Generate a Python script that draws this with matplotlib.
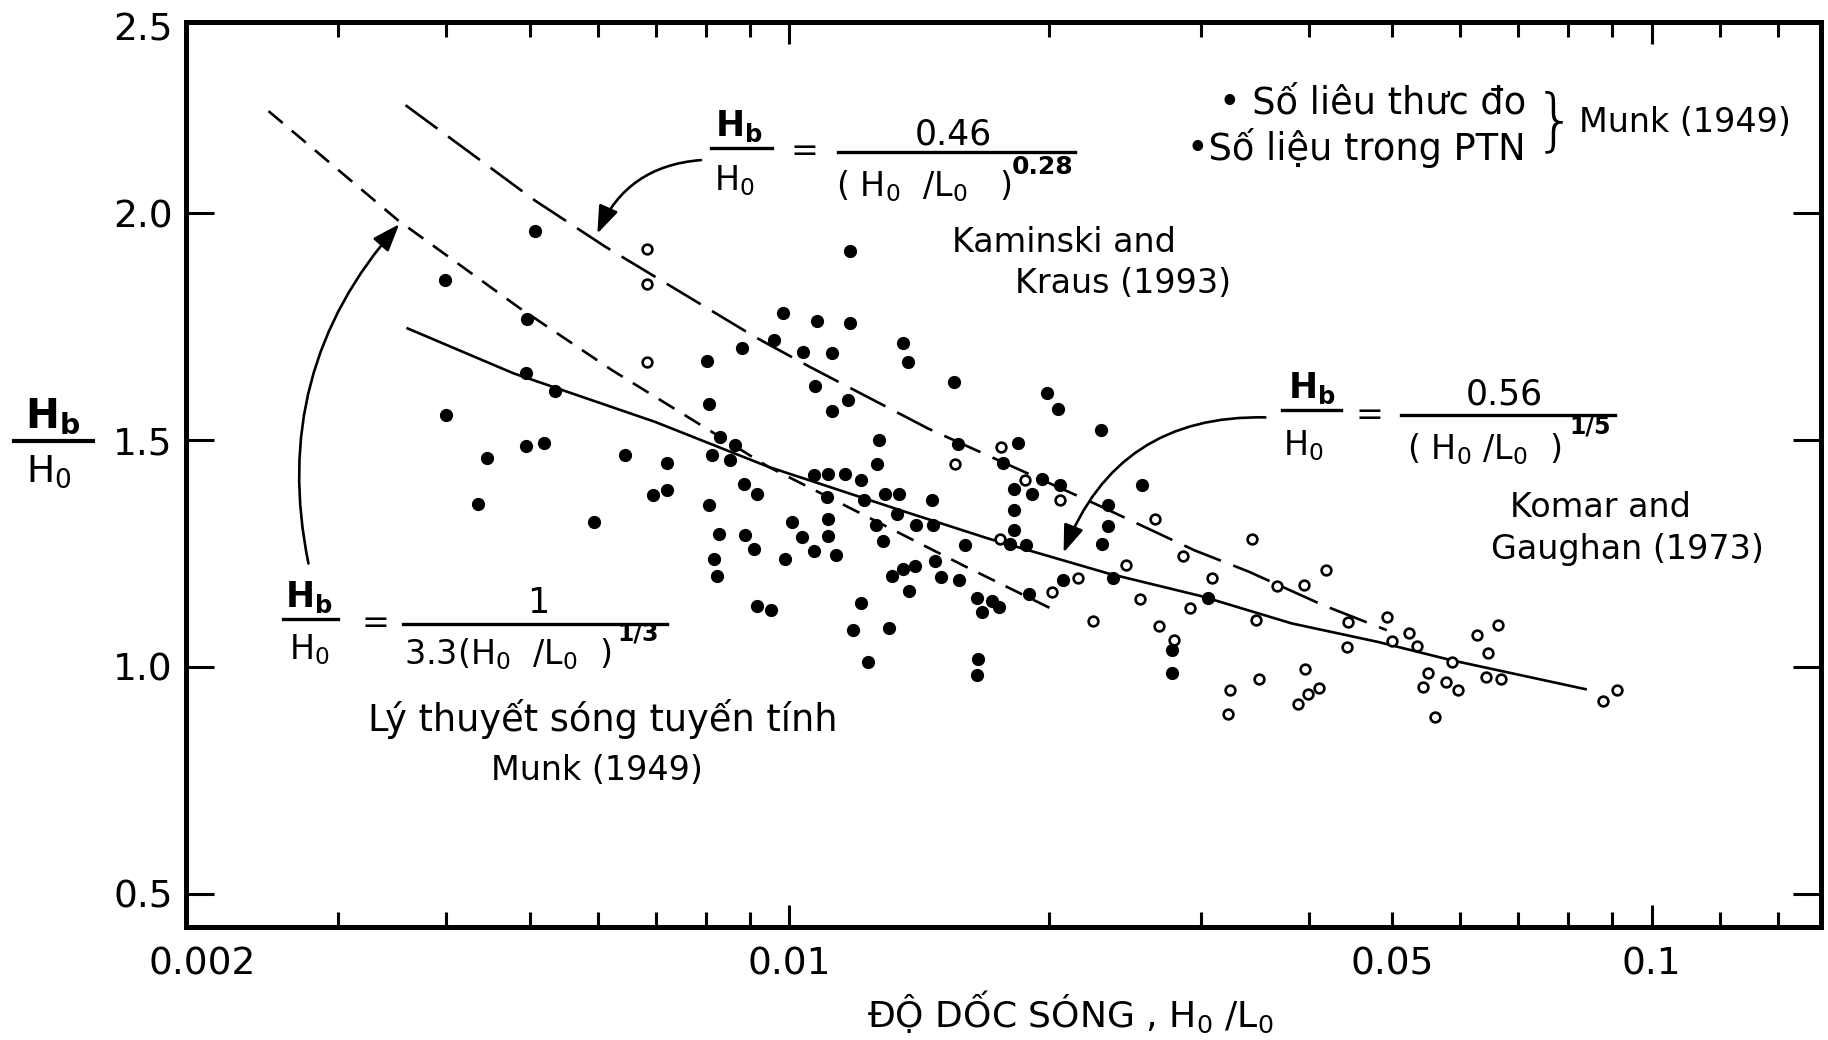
import matplotlib
matplotlib.use("Agg")
import matplotlib.pyplot as plt
from matplotlib.lines import Line2D
from matplotlib.transforms import ScaledTranslation

plt.rcParams['font.family'] = ['DejaVu Sans']
plt.rcParams['mathtext.fontset'] = 'dejavusans'

# ---------------- data ----------------
field_x = [0.00507, 0.00399, 0.00496, 0.00495, 0.00535, 0.00400, 0.00495, 0.00520, 0.00446,
           0.00436, 0.00594, 0.00645, 0.00695, 0.00721, 0.00721, 0.00802, 0.00881, 0.00961,
           0.00806, 0.00831, 0.00865, 0.00813, 0.00854, 0.00806, 0.00887, 0.00917, 0.00828,
           0.00889, 0.00909, 0.00817, 0.00824, 0.00917, 0.00952, 0.01176, 0.00984, 0.01078,
           0.01176, 0.01036, 0.01120, 0.01353, 0.01374, 0.01554, 0.01989, 0.0205, 0.02296,
           0.01071, 0.01169, 0.01122, 0.01271, 0.01263, 0.01571, 0.01844, 0.01767, 0.01067,
           0.01110, 0.01159, 0.01211, 0.01105, 0.01222, 0.01291, 0.01342, 0.01465, 0.01332,
           0.01007, 0.01110, 0.01260, 0.01402, 0.01469, 0.01034, 0.01110, 0.01286, 0.01067,
           0.01132, 0.00989, 0.01599, 0.0182, 0.01962, 0.0191, 0.0206, 0.0182, 0.0182,
           0.01803, 0.0188, 0.02562, 0.0234, 0.0234, 0.02303, 0.0306, 0.02079, 0.02376,
           0.02776, 0.02776, 0.01894, 0.01649, 0.01717, 0.0175, 0.01675, 0.01476, 0.01498,
           0.01575, 0.01317, 0.01356, 0.01399, 0.01378, 0.01210, 0.01187, 0.01306, 0.01233,
           0.01654, 0.01649]
field_y = [1.960, 1.853, 1.766, 1.647, 1.608, 1.555, 1.486, 1.494, 1.461,
           1.360, 1.320, 1.467, 1.379, 1.391, 1.450, 1.674, 1.702, 1.720,
           1.580, 1.506, 1.489, 1.467, 1.456, 1.356, 1.404, 1.381, 1.294,
           1.290, 1.261, 1.237, 1.200, 1.134, 1.126, 1.917, 1.781, 1.762,
           1.758, 1.694, 1.692, 1.713, 1.671, 1.628, 1.604, 1.569, 1.522,
           1.619, 1.589, 1.564, 1.501, 1.448, 1.491, 1.494, 1.450, 1.422,
           1.425, 1.426, 1.413, 1.375, 1.367, 1.381, 1.382, 1.367, 1.338,
           1.320, 1.325, 1.313, 1.313, 1.313, 1.287, 1.288, 1.278, 1.256,
           1.246, 1.237, 1.268, 1.393, 1.415, 1.381, 1.400, 1.345, 1.301,
           1.271, 1.268, 1.400, 1.356, 1.310, 1.271, 1.151, 1.191, 1.195,
           1.037, 0.986, 1.160, 1.152, 1.146, 1.133, 1.121, 1.234, 1.199,
           1.191, 1.200, 1.215, 1.222, 1.168, 1.140, 1.081, 1.085, 1.011,
           1.017, 0.982]

lab_x = [0.00684, 0.00684, 0.00684, 0.0176, 0.01556, 0.01877, 0.0206, 0.01756, 0.02655,
         0.02863, 0.03088, 0.02455, 0.0216, 0.02015, 0.0255, 0.02914, 0.02252, 0.02686,
         0.02793, 0.03443, 0.04186, 0.03673, 0.03954, 0.03473, 0.04449, 0.04928, 0.04429,
         0.04993, 0.05231, 0.05339, 0.0586, 0.06266, 0.06637, 0.06451, 0.06418, 0.06686,
         0.05508, 0.05433, 0.05767, 0.05957, 0.05607, 0.03243, 0.03228, 0.03504, 0.03963,
         0.04114, 0.03991, 0.03892, 0.0912, 0.0879]
lab_y = [1.922, 1.843, 1.672, 1.484, 1.447, 1.412, 1.367, 1.283, 1.325,
         1.244, 1.197, 1.224, 1.195, 1.166, 1.149, 1.129, 1.101, 1.090,
         1.059, 1.283, 1.213, 1.178, 1.180, 1.103, 1.099, 1.110, 1.043,
         1.058, 1.074, 1.046, 1.011, 1.070, 1.092, 1.031, 0.978, 0.973,
         0.986, 0.955, 0.967, 0.950, 0.890, 0.949, 0.896, 0.973, 0.995,
         0.953, 0.940, 0.918, 0.949, 0.925]

# Linear wave theory, Munk (1949)
linear_x = [0.00249, 0.00352, 0.00485, 0.00623, 0.00946, 0.0116, 0.0159, 0.0203]
linear_y = [2.225, 1.984, 1.793, 1.654, 1.441, 1.356, 1.224, 1.125]
# Kaminski and Kraus (1993)
kk_x = [0.00359, 0.00507, 0.00612, 0.00913, 0.01057, 0.0145, 0.0226, 0.0295, 0.0341, 0.0416, 0.0493]
kk_y = [2.238, 2.028, 1.926, 1.727, 1.661, 1.525, 1.360, 1.257, 1.210, 1.136, 1.081]
# Komar and Gaughan (1973)
kg_x = [0.00361, 0.00479, 0.00699, 0.00946, 0.01362, 0.01701, 0.02343, 0.03004, 0.03823, 0.04818, 0.05853, 0.0838]
kg_y = [1.746, 1.647, 1.540, 1.441, 1.342, 1.283, 1.206, 1.156, 1.096, 1.055, 1.015, 0.951]

x_major = [0.002, 0.01, 0.05, 0.1]
x_major_labels = ['0.002', '0.01', '0.05', '0.1']
x_minor = [0.003, 0.004, 0.005, 0.006, 0.007, 0.008, 0.009,
           0.02, 0.03, 0.04, 0.06, 0.07, 0.08, 0.09, 0.12, 0.14]
y_ticks = [0.5, 1.0, 1.5, 2.0]
y_labels = ['0.5', '1.0', '1.5', '2.0']

# ---------------- figure ----------------
fig = plt.figure(figsize=(18.28, 10.40), dpi=100)
ax = fig.add_axes([0.102, 0.1087, 0.894, 0.870])
ax.set_xscale('log')
ax.set_xlim(0.002, 0.157)
ax.set_ylim(0.427, 2.421)

LW = 1.9
ax.plot(linear_x, linear_y, color='black', lw=LW, linestyle=(0, (7, 4.5)))
ax.plot(kk_x, kk_y, color='black', lw=LW, linestyle=(0, (15, 5)))
ax.plot(kg_x, kg_y, color='black', lw=LW, linestyle='-')

ax.plot(field_x, field_y, 'o', color='black', markersize=8.5, zorder=4)
ax.plot(lab_x, lab_y, 'o', markerfacecolor='white', markeredgecolor='black',
        markersize=7, markeredgewidth=1.9, zorder=4)

for s in ax.spines.values():
    s.set_linewidth(3.6)

ax.set_xticks(x_major)
ax.set_xticklabels(x_major_labels)
ax.set_xticks(x_minor, minor=True)
ax.xaxis.set_minor_formatter(matplotlib.ticker.NullFormatter())
ax.set_yticks(y_ticks)
ax.set_yticklabels(y_labels)
ax.tick_params(axis='x', which='major', direction='in', length=16, width=2.2,
               top=True, bottom=True, labelsize=27, pad=14)
ax.tick_params(axis='x', which='minor', direction='in', length=11, width=2.2,
               top=True, bottom=True)
ax.tick_params(axis='y', which='major', direction='in', length=20, width=2.2,
               left=True, right=True, labelsize=27, pad=10)
ax.tick_params(axis='y', which='minor', left=False, right=False)
for i, t in enumerate(ax.xaxis.get_major_ticks()):
    if x_major_labels[i] in ('0.002', '0.05'):
        t.tick1line.set_markersize(11)
        t.tick2line.set_markersize(11)
# first x label sits a little to the right of the corner
lbl0 = ax.get_xticklabels()[0]
lbl0.set_transform(lbl0.get_transform() + ScaledTranslation(0.16, 0, fig.dpi_scale_trans))

ax.text(-0.0083, 0.991, '2.5', transform=ax.transAxes, ha='right', va='center', fontsize=27)

# ---------------- arrows ----------------
arrow_kw = dict(arrowstyle='-|>,head_length=0.6,head_width=0.22', color='black', lw=1.9,
                mutation_scale=28, shrinkA=0, shrinkB=0)
ax.annotate('', xy=(0.00599, 1.955), xytext=(0.0079, 2.117),
            arrowprops=dict(connectionstyle='arc3,rad=0.3', **arrow_kw))
ax.annotate('', xy=(0.00353, 1.976), xytext=(0.00277, 1.228),
            arrowprops=dict(connectionstyle='arc3,rad=-0.25', **arrow_kw))
ax.annotate('', xy=(0.0208, 1.252), xytext=(0.03565, 1.550),
            arrowprops=dict(connectionstyle='arc3,rad=0.35', **arrow_kw))

# ---------------- text helpers ----------------
def ftext(x, y, s, size=25, ha='center', va='center', **kw):
    fig.text(x / 1568, 1 - y / 892, s, fontsize=size, ha=ha, va=va, **kw)

def fline(x0, x1, y, lw=2.4):
    fig.add_artist(Line2D([x0 / 1568, x1 / 1568], [1 - y / 892, 1 - y / 892],
                          transform=fig.transFigure, color='black', lw=lw))

H0 = r'$\mathregular{H_0}$'
L0 = r'$\mathregular{L_0}$'

# y-axis label (fraction)
ftext(45, 357, r'$\mathbf{H_b}$', size=29)
fline(12, 80, 378, lw=3.0)
ftext(42, 405, H0, size=27)

# x-axis label
ftext(918, 868, 'ĐỘ DỐC SÓNG , ' + H0 + ' /' + L0, size=26)

# Kaminski & Kraus formula
ftext(634, 108, r'$\mathbf{H_b}$', size=25)
fline(610, 662, 127)
ftext(630, 155, H0, size=24)
ftext(690, 130, '=', size=24)
ftext(818, 115, '0.46', size=25)
fline(719, 922, 130)
ftext(793, 160, '( ' + H0 + '  /' + L0 + '   )', size=24)
ftext(894, 143, '0.28', size=18, weight='bold')
ftext(913, 208, 'Kaminski and', size=24)
ftext(963, 243, 'Kraus (1993)', size=24)

# Komar & Gaughan formula
ftext(1125, 333, r'$\mathbf{H_b}$', size=25)
fline(1100, 1150, 352)
ftext(1118, 382, H0, size=24)
ftext(1175, 356, '=', size=24)
ftext(1290, 338, '0.56', size=25)
fline(1202, 1385, 356)
ftext(1273, 385, '( ' + H0 + ' /' + L0 + '  )', size=24)
ftext(1364, 366, '1/5', size=17, weight='bold')
ftext(1373, 435, 'Komar and', size=24)
ftext(1396, 471, 'Gaughan (1973)', size=24)

# Linear theory formula
ftext(265, 512, r'$\mathbf{H_b}$', size=25)
fline(243, 290, 531)
ftext(265, 557, H0, size=24)
ftext(322, 535, '=', size=24)
ftext(462, 517, '1', size=25)
fline(346, 572, 535)
ftext(436, 561, '3.3(' + H0 + '  /' + L0 + '  )', size=24)
ftext(547, 543, '1/3', size=17, weight='bold')
ftext(517, 617, 'Lý thuyết sóng tuyến tính', size=26.5)
ftext(512, 661, 'Munk (1949)', size=24)

# legend block
ftext(1046, 88, '• Số liêu thưc đo', size=26.5, ha='left')
ftext(1018, 127, '•Số liệu trong PTN', size=26.5, ha='left')
ftext(1334, 106, '}', size=48, weight='light')
ftext(1445, 105, 'Munk (1949)', size=24)

fig.savefig('out.png', dpi=100)
